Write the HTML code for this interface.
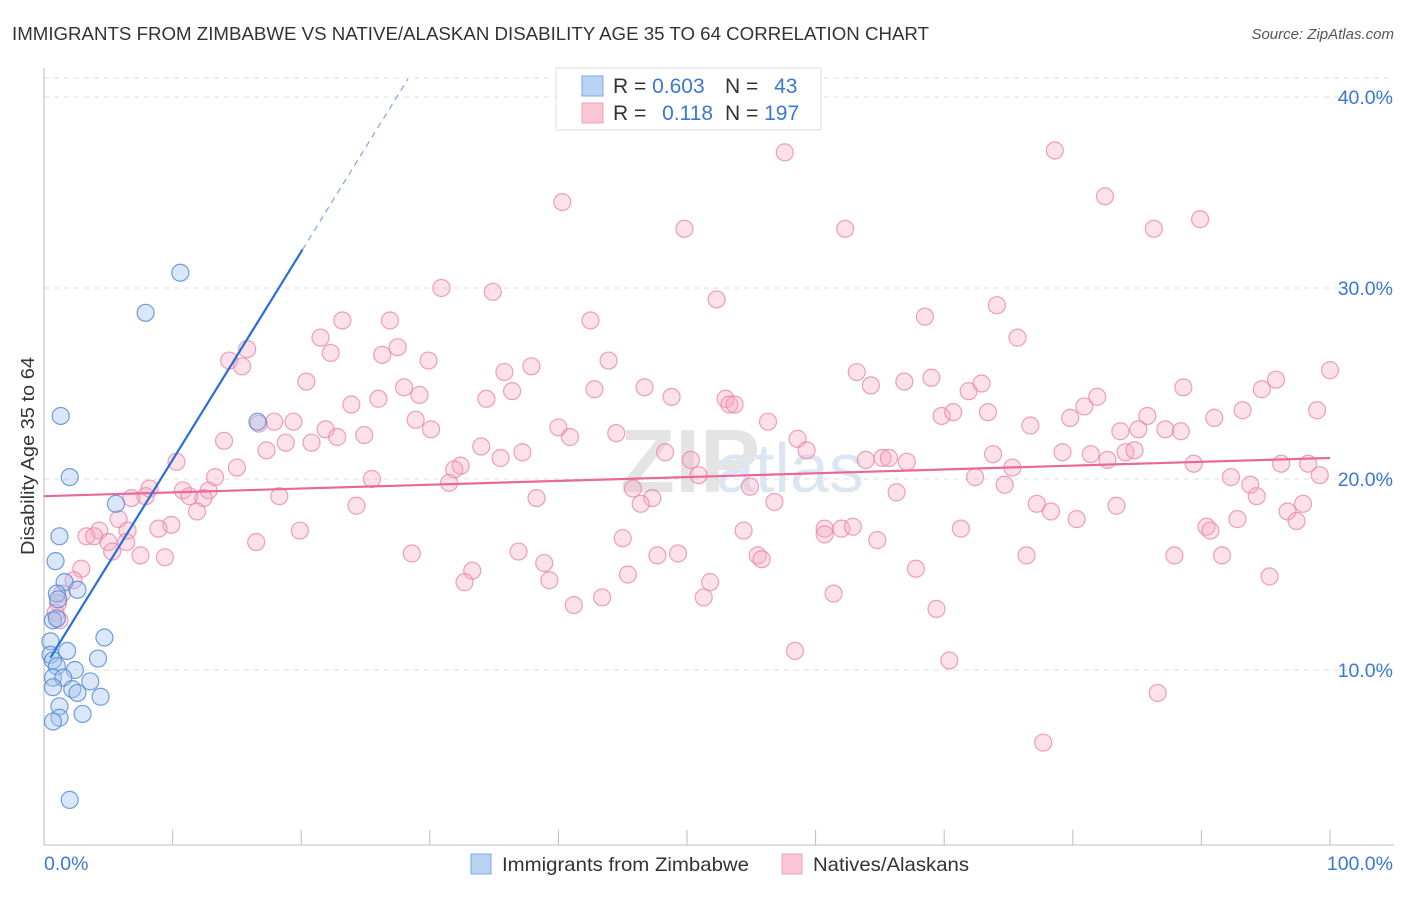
<!DOCTYPE html>
<html><head><meta charset="utf-8"><style>
body{margin:0;background:#fff;font-family:"Liberation Sans",sans-serif;}
svg text{font-family:"Liberation Sans",sans-serif;}
</style></head><body>
<svg width="1406" height="892" id="chart">
<text x="12" y="40" font-size="18.5" fill="#333" textLength="917" lengthAdjust="spacingAndGlyphs">IMMIGRANTS FROM ZIMBABWE VS NATIVE/ALASKAN DISABILITY AGE 35 TO 64 CORRELATION CHART</text>
<text x="1394" y="39" font-size="15" fill="#555" font-style="italic" text-anchor="end">Source: ZipAtlas.com</text>
<text x="620" y="492" font-size="90" fill="#e4e4e4" font-family="Liberation Serif" font-weight="bold">ZIP</text>
<text x="716" y="492" font-size="70" fill="#dce6f3">atlas</text>
<g id="grid"></g><g id="axes"></g><g id="pink"></g><g id="blue"></g><g id="lines"></g>
<text transform="translate(34,456) rotate(-90)" font-size="18" fill="#333" text-anchor="middle" textLength="198" lengthAdjust="spacingAndGlyphs">Disability Age 35 to 64</text>
<text x="44" y="870" font-size="19.5" fill="#3a78d4">0.0%</text>
<text x="1393" y="870" font-size="19.5" fill="#3a78d4" text-anchor="end">100.0%</text>
<g>
<rect x="556" y="68" width="265" height="62" fill="#fff" stroke="#ddd"/>
<rect x="582" y="76" width="21" height="20" fill="#b9d3f5" stroke="#7ba7e0"/>
<rect x="582" y="103" width="21" height="20" fill="#fac6d6" stroke="#ee9fb8"/>
<text x="613" y="93" font-size="21" fill="#333">R = <tspan fill="#3a78d4">0.603</tspan></text>
<text x="725" y="93" font-size="21" fill="#333">N = <tspan fill="#3a78d4" dx="10">43</tspan></text>
<text x="613" y="120" font-size="21" fill="#333">R = <tspan fill="#3a78d4" dx="10">0.118</tspan></text>
<text x="725" y="120" font-size="21" fill="#333">N = <tspan fill="#3a78d4">197</tspan></text>
</g>
<g>
<rect x="471" y="854" width="20" height="20" fill="#b9d3f5" stroke="#7ba7e0"/>
<text x="502" y="871" font-size="19.5" fill="#333" textLength="247" lengthAdjust="spacingAndGlyphs">Immigrants from Zimbabwe</text>
<rect x="782" y="854" width="20" height="20" fill="#fac6d6" stroke="#ee9fb8"/>
<text x="813" y="871" font-size="19.5" fill="#333" textLength="156" lengthAdjust="spacingAndGlyphs">Natives/Alaskans</text>
</g>
</svg>
<script>
const yTicks=[10,20,30,40];
const yTickLabels=["10.0%","20.0%","30.0%","40.0%"];
const xTicks=[0,10,20,30,40,50,60,70,80,90,100];
const blueX=[10.6,7.9,16.6,1.3,2.0,5.6,1.2,0.9,1.6,2.6,1.0,1.1,0.7,1.0,4.7,0.5,1.8,4.2,0.5,0.7,1.0,2.4,0.7,1.5,3.6,0.7,2.2,2.6,4.4,1.2,3.0,1.2,0.7,2.0];
const blueY=[30.8,28.7,23.0,23.3,20.1,18.7,17.0,15.7,14.6,14.2,14.0,13.7,12.6,12.7,11.7,11.5,11.0,10.6,10.8,10.5,10.2,10.0,9.6,9.6,9.4,9.1,9.0,8.8,8.6,8.1,7.7,7.5,7.3,3.2];
const pinkX=[57.6,78.6,40.3,82.5,49.8,62.3,86.3,89.9,30.9,34.9,52.3,74.1,42.5,68.5,23.2,26.9,21.5,75.7,15.8,22.3,27.5,26.3,14.4,15.4,29.9,43.9,20.4,35.8,37.9,63.2,66.9,69.0,95.8,100,28.0,29.2,36.4,42.8,46.7,48.8,64.3,71.9,72.9,88.6,94.7,26.0,23.9,34.4,53.0,53.3,53.7,81.9,80.9,99.0,91.0,93.2,69.8,70.7,73.4,85.8,79.8,28.9,17.9,16.7,19.4,30.1,56.3,76.7,87.2,88.4,40.0,21.9,83.7,85.1,14.0,22.8,24.9,40.9,44.5,58.6,18.8,20.8,17.3,34.0,59.3,48.3,84.1,84.8,10.3,35.5,37.2,63.9,65.2,65.7,67.1,73.8,79.2,81.4,82.7,50.3,89.4,96.2,98.3,15.0,32.4,31.9,75.3,13.3,25.5,31.5,50.9,92.3,99.2,8.2,10.8,12.8,11.3,12.4,18.3,6.8,7.9,45.8,47.3,54.9,66.3,72.4,74.7,93.8,94.3,38.3,46.4,56.8,77.2,83.4,78.3,80.3,97.9,96.7,97.4,92.8,24.3,11.9,5.8,9.9,8.9,4.3,6.5,19.9,54.4,60.7,62.0,62.9,60.7,71.3,90.4,90.7,3.3,3.9,5.0,6.4,16.5,45.0,64.8,5.3,7.5,9.4,28.6,36.9,47.7,49.3,55.5,55.8,76.4,87.9,91.6,2.9,38.9,33.3,45.4,67.8,2.3,39.3,95.3,32.7,51.8,61.4,41.2,43.4,51.3,69.4,1.4,1.1,0.9,1.2,58.4,70.4,86.6,77.7];
const pinkY=[37.1,37.2,34.5,34.8,33.1,33.1,33.1,33.6,30.0,29.8,29.4,29.1,28.3,28.5,28.3,28.3,27.4,27.4,26.8,26.6,26.9,26.5,26.2,25.9,26.2,26.2,25.1,25.6,25.9,25.6,25.1,25.3,25.2,25.7,24.8,24.4,24.6,24.7,24.8,24.3,24.9,24.6,25.0,24.8,24.7,24.2,23.9,24.2,24.2,23.9,23.9,24.3,23.8,23.6,23.2,23.6,23.3,23.5,23.5,23.3,23.2,23.1,23.0,22.9,23.0,22.6,23.0,22.8,22.6,22.5,22.7,22.6,22.5,22.6,22.0,22.2,22.3,22.2,22.4,22.1,21.9,21.9,21.5,21.7,21.5,21.4,21.4,21.5,20.9,21.1,21.4,21.0,21.1,21.1,20.9,21.3,21.4,21.3,21.0,21.0,20.8,20.8,20.8,20.6,20.7,20.5,20.6,20.1,20.0,19.8,20.2,20.1,20.2,19.5,19.4,19.4,19.1,19.0,19.1,19.0,19.1,19.5,19.0,19.6,19.3,20.1,19.7,19.7,19.1,19.0,18.7,18.8,18.7,18.6,18.3,17.9,18.7,18.3,17.8,17.9,18.6,18.3,17.9,17.6,17.4,17.3,17.3,17.3,17.3,17.4,17.4,17.5,17.1,17.4,17.5,17.3,17.0,17.0,16.7,16.7,16.7,16.9,16.8,16.2,16.0,15.9,16.1,16.2,16.0,16.1,16.0,15.8,16.0,16.0,16.0,15.3,15.6,15.2,15.0,15.3,14.7,14.7,14.9,14.6,14.6,14.0,13.4,13.8,13.8,13.2,14.0,13.5,13.0,12.6,11.0,10.5,8.8,6.2];
const blueTrend=[10.1,1.09];
const pinkTrend=[19.1,0.02];
const NS="http://www.w3.org/2000/svg";
function sx(v){return 44+v*12.86;}
function sy(v){return 861-v*19.1;}
function mk(tag,attrs,parent){const e=document.createElementNS(NS,tag);for(const k in attrs)e.setAttribute(k,attrs[k]);parent.appendChild(e);return e;}
const grid=document.getElementById('grid'),axes=document.getElementById('axes');
let g=mk('line',{x1:44,x2:1394,y1:78,y2:78,stroke:'#ddd','stroke-dasharray':'5,5'},grid);


yTicks.forEach((t,i)=>{
 const l=mk('line',{x1:44,x2:1394,y1:sy(t),y2:sy(t),stroke:'#ddd','stroke-dasharray':'5,5'},grid);
 
 
 const tx=mk('text',{x:1393,y:sy(t)+7,'font-size':19.5,fill:'#3a78d4','text-anchor':'end'},axes);
 tx.textContent=yTickLabels[i];
 
 
});
let ax=mk('line',{x1:44,x2:44,y1:68,y2:845,stroke:'#bbb'},axes);


let bx=mk('line',{x1:44,x2:1394,y1:845,y2:845,stroke:'#bbb'},axes);


xTicks.forEach(t=>{
 const l=mk('line',{x1:sx(t),x2:sx(t),y1:830,y2:845,stroke:'#bbb'},axes);
 
 
});
const pg=document.getElementById('pink');
pinkX.forEach((x,i)=>{
 const c=mk('circle',{cx:sx(x),cy:sy(pinkY[i]),r:8.5,fill:'rgba(246,170,195,0.35)',stroke:'rgba(232,130,165,0.75)','stroke-width':1.2},pg);
 
 
});
const bg=document.getElementById('blue');
blueX.forEach((x,i)=>{
 const c=mk('circle',{cx:sx(x),cy:sy(blueY[i]),r:8.5,fill:'rgba(160,195,240,0.4)',stroke:'rgba(80,135,210,0.8)','stroke-width':1.2},bg);
 
 
});
const lg=document.getElementById('lines');
let pl=mk('line',{x1:sx(0),y1:sy(pinkTrend[0]),x2:sx(100),y2:sy(pinkTrend[0]+pinkTrend[1]*100),stroke:'#e8689a','stroke-width':2.2},lg);


let bl=mk('line',{x1:sx(0.5),y1:sy(blueTrend[0]+blueTrend[1]*0.5),x2:sx(20.1),y2:sy(blueTrend[0]+blueTrend[1]*20.1),stroke:'#2a6fd6','stroke-width':2.2},lg);


let bd=mk('line',{x1:sx(20.1),y1:sy(blueTrend[0]+blueTrend[1]*20.1),x2:sx(28.3),y2:sy(blueTrend[0]+blueTrend[1]*28.3),stroke:'#7aa6e6','stroke-width':1.2,'stroke-dasharray':'6,5'},lg);


</script>
</body></html>
